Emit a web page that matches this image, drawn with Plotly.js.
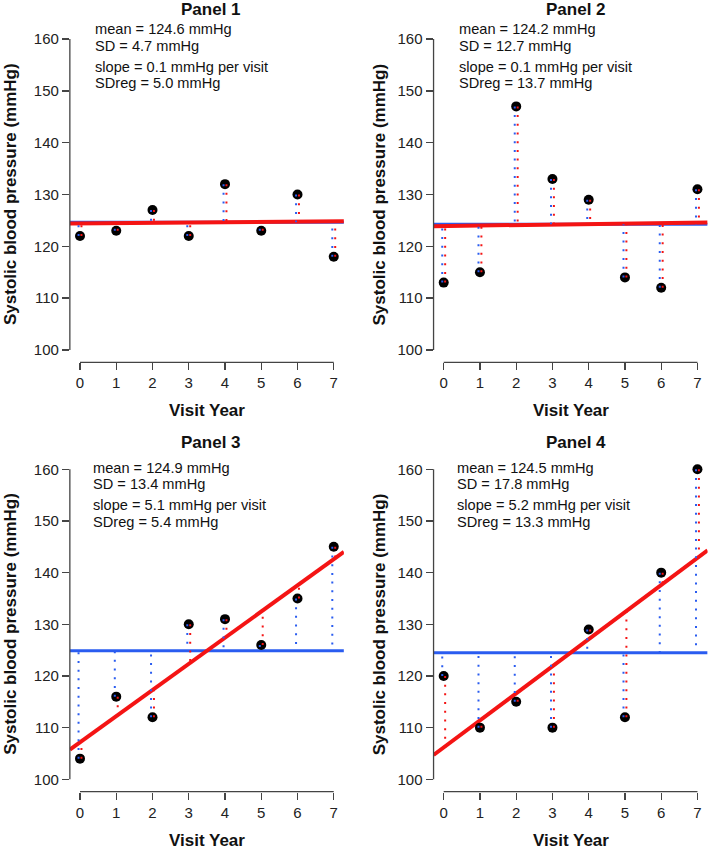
<!DOCTYPE html>
<html>
<head>
<meta charset="utf-8">
<script src="https://cdn.plot.ly/plotly-3.0.1.min.js"></script>
<style>html,body{margin:0;padding:0;background:#fff;}#chart{width:712px;height:850px;}</style>
</head>
<body>
<div id="chart"></div>
<script>
// ---- data ----
const visits = [0, 1, 2, 3, 4, 5, 6, 7];
const sbpPanel1 = [122, 123, 127, 122, 132, 123, 130, 118];
const sbpPanel2 = [113, 115, 147, 133, 129, 114, 112, 131];
const sbpPanel3 = [104, 116, 112, 130, 131, 126, 135, 145];
const sbpPanel4 = [120, 110, 115, 110, 129, 112, 140, 160];
const panelTitles = ['Panel 1', 'Panel 2', 'Panel 3', 'Panel 4'];
const meanLabels = ['mean = 124.6 mmHg', 'mean = 124.2 mmHg', 'mean = 124.9 mmHg', 'mean = 124.5 mmHg'];
const sdLabels = ['SD = 4.7 mmHg', 'SD = 12.7 mmHg', 'SD = 13.4 mmHg', 'SD = 17.8 mmHg'];
const slopeLabels = ['slope = 0.1 mmHg per visit', 'slope = 0.1 mmHg per visit', 'slope = 5.1 mmHg per visit', 'slope = 5.2 mmHg per visit'];
const sdregLabels = ['SDreg = 5.0 mmHg', 'SDreg = 13.7 mmHg', 'SDreg = 5.4 mmHg', 'SDreg = 13.3 mmHg'];
const yTickVals = [100, 110, 120, 130, 140, 150, 160];
const xTitle = 'Visit Year';
const yTitle = 'Systolic blood pressure (mmHg)';

// ---- styles / layout constants ----
const W = 712, H = 850;
const FONT = 'Liberation Sans, Arial, Helvetica, sans-serif';
const BLUE = '#2a5cf0', RED = '#f41414', AXC = '#444';
const XR = [-0.28, 7.28], YR = [97.6, 162.4];
const px = v => v / W, py = v => 1 - v / H;
const xDom = [[69.85, 343.9], [433.55, 707.6]];
const yDom = [[26.6, 362.4], [456.9, 791.7]];
const statX = [93, 456.7, 90.7, 454.7];
// centre of each two-line block (mean/SD, slope/SDreg), in px from top
const statBlockY = [[37.5, 75], [37.5, 75], [475.9, 513.8], [475.9, 513.8]];
const titlePos = [[211, 10], [575.5, 10], [211.3, 442.5], [575.5, 442.5]];
const yTitleX = [10.5, 379, 10.5, 379];
const xTitleY = [410, 410, 840, 840];
const OFF = 0.04;
const STAT_SIZE = 14.6, STAT_GAP = 16.6;

const series = [sbpPanel1, sbpPanel2, sbpPanel3, sbpPanel4];
const traces = [];
const annotations = [];
const shapes = [];
const layout = {
  width: W, height: H,
  margin: {l: 0, r: 0, t: 0, b: 0},
  paper_bgcolor: '#fff', plot_bgcolor: '#fff',
  showlegend: false,
  font: {family: FONT, color: '#222'}
};

series.forEach((ys, i) => {
  const k = i + 1;
  const xa = 'x' + (k === 1 ? '' : k), ya = 'y' + (k === 1 ? '' : k);
  const col = i % 2, row = Math.floor(i / 2);
  const n = ys.length;
  const mx = visits.reduce((a, b) => a + b, 0) / n;
  const my = ys.reduce((a, b) => a + b, 0) / n;
  let sxy = 0, sxx = 0;
  visits.forEach((x, j) => { sxy += (x - mx) * (ys[j] - my); sxx += (x - mx) * (x - mx); });
  const b = sxy / sxx, a = my - b * mx;
  const fit = x => a + b * x;

  traces.push({x: XR, y: [my, my], xaxis: xa, yaxis: ya, mode: 'lines',
    line: {color: BLUE, width: 3}, hoverinfo: 'skip'});
  traces.push({x: XR, y: XR.map(fit), xaxis: xa, yaxis: ya, mode: 'lines',
    line: {color: RED, width: 4}, hoverinfo: 'skip'});
  traces.push({x: visits, y: ys, xaxis: xa, yaxis: ya, mode: 'markers',
    marker: {color: '#000', size: 10}, cliponaxis: false});
  const bx = [], by = [], rx = [], ry = [];
  visits.forEach((x, j) => {
    bx.push(x - OFF, x - OFF, null); by.push(ys[j], my, null);
    rx.push(x + OFF, x + OFF, null); ry.push(ys[j], fit(x), null);
  });
  traces.push({x: bx, y: by, xaxis: xa, yaxis: ya, mode: 'lines', connectgaps: false,
    line: {color: BLUE, width: 2, dash: '2px,6.7px'}, hoverinfo: 'skip'});
  traces.push({x: rx, y: ry, xaxis: xa, yaxis: ya, mode: 'lines', connectgaps: false,
    line: {color: RED, width: 2, dash: '2px,6.7px'}, hoverinfo: 'skip'});

  const axBase = {showgrid: false, zeroline: false, showline: false, ticks: 'outside',
    ticklen: 7, tickwidth: 1.3, tickcolor: AXC, tickfont: {family: FONT, size: 15, color: '#222'}, fixedrange: true};
  layout['xaxis' + (k === 1 ? '' : k)] = Object.assign({}, axBase, {
    domain: [px(xDom[col][0]), px(xDom[col][1])], range: XR, anchor: ya,
    tickmode: 'array', tickvals: visits, ticktext: visits.map(String)});
  layout['yaxis' + (k === 1 ? '' : k)] = Object.assign({}, axBase, {
    domain: [py(yDom[row][1]), py(yDom[row][0])], range: YR, anchor: xa,
    tickmode: 'array', tickvals: yTickVals, ticktext: yTickVals.map(String)});

  shapes.push({type: 'line', xref: xa, yref: ya + ' domain', x0: visits[0], x1: visits[n - 1], y0: 0, y1: 0,
    line: {color: AXC, width: 1.3}});
  shapes.push({type: 'line', xref: xa + ' domain', yref: ya, x0: 0, x1: 0,
    y0: yTickVals[0], y1: yTickVals[yTickVals.length - 1], line: {color: AXC, width: 1.3}});

  const lines = [[meanLabels[i], sdLabels[i]], [slopeLabels[i], sdregLabels[i]]];
  lines.forEach((pair, bIdx) => {
    pair.forEach((t, m) => {
      const yc = statBlockY[i][bIdx] + (m === 0 ? -STAT_GAP / 2 : STAT_GAP / 2);
      annotations.push({xref: 'paper', yref: 'paper', x: px(statX[i]), y: py(yc),
        xanchor: 'left', yanchor: 'middle', showarrow: false, text: t,
        font: {family: FONT, size: STAT_SIZE, color: '#111'}});
    });
  });
  annotations.push({xref: 'paper', yref: 'paper', x: px(titlePos[i][0]), y: py(titlePos[i][1]),
    xanchor: 'center', yanchor: 'middle', showarrow: false, text: '<b>' + panelTitles[i] + '</b>',
    font: {family: FONT, size: 17, color: '#111'}});
  annotations.push({xref: 'paper', yref: 'paper', x: px((xDom[col][0] + xDom[col][1]) / 2), y: py(xTitleY[i]),
    xanchor: 'center', yanchor: 'middle', showarrow: false, text: '<b>' + xTitle + '</b>',
    font: {family: FONT, size: 17, color: '#111'}});
  annotations.push({xref: 'paper', yref: 'paper', x: px(yTitleX[i]), y: py((yDom[row][0] + yDom[row][1]) / 2),
    xanchor: 'center', yanchor: 'middle', textangle: -90, showarrow: false, text: '<b>' + yTitle + '</b>',
    font: {family: FONT, size: 17, color: '#111'}});
});

layout.annotations = annotations;
layout.shapes = shapes;
Plotly.newPlot('chart', traces, layout, {displayModeBar: false, staticPlot: true});
</script>
</body>
</html>
